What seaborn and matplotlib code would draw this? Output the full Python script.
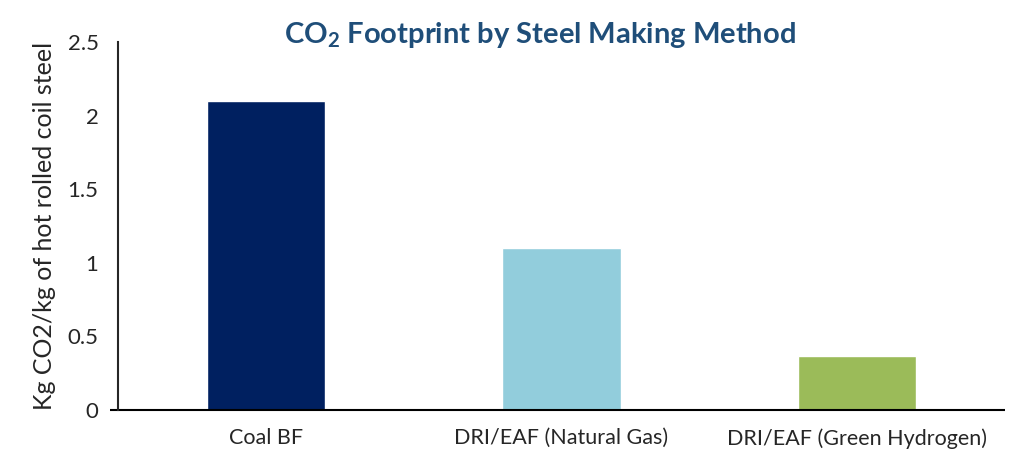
import matplotlib
matplotlib.use("Agg")
import matplotlib.pyplot as plt
import seaborn as sns
import pandas as pd

# values
methods = ["Coal BF", "DRI/EAF (Natural Gas)", "DRI/EAF (Green Hydrogen)"]
co2_per_kg = [2.1, 1.1, 0.37]
bar_colors = ["#002060", "#92CDDC", "#9BBB59"]
y_ticks = [0, 0.5, 1, 1.5, 2, 2.5]
y_tick_labels = ["0", "0.5", "1", "1.5", "2", "2.5"]

sns.set_style("white")
plt.rcParams["font.family"] = ["Lato", "DejaVu Sans"]
plt.rcParams["mathtext.fontset"] = "custom"
plt.rcParams["mathtext.rm"] = "Lato:bold"
plt.rcParams["mathtext.bf"] = "Lato:bold"

df = pd.DataFrame({"method": methods, "co2": co2_per_kg})

fig = plt.figure(figsize=(10.12, 4.55), dpi=100)
ax = fig.add_axes([0.1166, 0.0989, 0.8764, 0.8088])

sns.barplot(data=df, x="method", y="co2", hue="method", palette=bar_colors,
            width=0.4, legend=False, ax=ax, saturation=1)

ax.set_ylim(0, 2.5)
ax.set_xlim(-0.5, 2.5)
ax.set_yticks(y_ticks)
ax.set_yticklabels(y_tick_labels)
ax.tick_params(axis="y", direction="inout", length=16, width=1.5, labelsize=16, pad=6)
ax.tick_params(axis="x", length=0, labelsize=15.5, pad=13)

for s in ["top", "right"]:
    ax.spines[s].set_visible(False)
ax.spines["left"].set_linewidth(1.5)
ax.spines["bottom"].set_visible(False)
# x axis line runs a little past the y axis
ax.plot([-0.009, 1.0], [0, 0], transform=ax.transAxes, color="black",
        lw=1.5, clip_on=False, solid_capstyle="butt")

ax.set_xlabel("")
ax.set_ylabel("Kg CO2/kg of hot rolled coil steel", fontsize=18, labelpad=8)

fig.text(0.534, 0.923, r"CO$_2$ Footprint by Steel Making Method",
         ha="center", va="center", fontsize=21, fontweight="bold", color="#1F4E79")

fig.savefig("out.png", dpi=100)
